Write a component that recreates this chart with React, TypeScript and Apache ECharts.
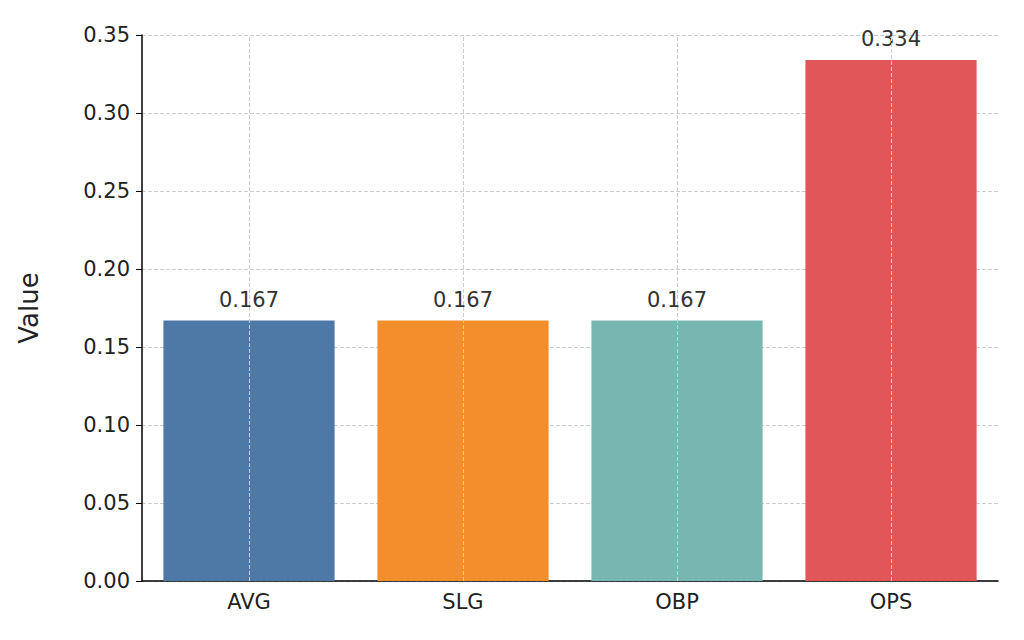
import React, { useEffect, useRef } from "react";
import * as echarts from "echarts";

const categories = ["AVG", "SLG", "OBP", "OPS"];
const values = [0.167, 0.167, 0.167, 0.334];
const colors = ["#4e79a7", "#f28e2b", "#76b7b2", "#e15759"];

const App = () => {
  const chartRef = useRef<HTMLDivElement>(null);

  useEffect(() => {
    const chart = echarts.init(chartRef.current, null, { renderer: "svg" });
    const font = "DejaVu Sans";
    chart.setOption({
      animation: false,
      textStyle: { fontFamily: font },
      grid: { left: 133, right: 18, top: 27, bottom: 51 },
      xAxis: {
        type: "category",
        data: categories,
        axisLine: { lineStyle: { color: "#000", width: 1.5 } },
        axisTick: { alignWithLabel: true, length: 6, lineStyle: { color: "#000" } },
        axisLabel: { fontSize: 21, color: "#222", margin: 10, fontFamily: font },
      },
      yAxis: {
        type: "value",
        min: 0,
        max: 0.35,
        interval: 0.05,
        name: "Value",
        nameLocation: "middle",
        nameGap: 100,
        nameTextStyle: { fontSize: 26, color: "#222", fontFamily: font },
        axisLine: { show: true, lineStyle: { color: "#000", width: 1.5 } },
        axisTick: { show: true, length: 6, lineStyle: { color: "#000" } },
        axisLabel: {
          fontSize: 21,
          color: "#222",
          margin: 12,
          fontFamily: font,
          formatter: (v: number) => v.toFixed(2),
        },
        splitLine: { lineStyle: { color: "#ccc", type: "dashed" } },
      },
      series: [
        {
          type: "bar",
          barWidth: "80%",
          data: values.map((v, i) => ({ value: v, itemStyle: { color: colors[i] } })),
          label: {
            show: true,
            position: "top",
            distance: 10,
            fontSize: 21,
            color: "#333",
            fontFamily: font,
            formatter: (p: any) => p.value.toFixed(3),
          },
          markLine: {
            silent: true,
            symbol: "none",
            label: { show: false },
            lineStyle: { color: "#ccc", type: "dashed", width: 1 },
            data: categories.map((c) => ({ xAxis: c })),
          },
        },
      ],
    });
    return () => chart.dispose();
  }, []);

  return <div ref={chartRef} style={{ width: 1008, height: 624 }} />;
};

export default App;
